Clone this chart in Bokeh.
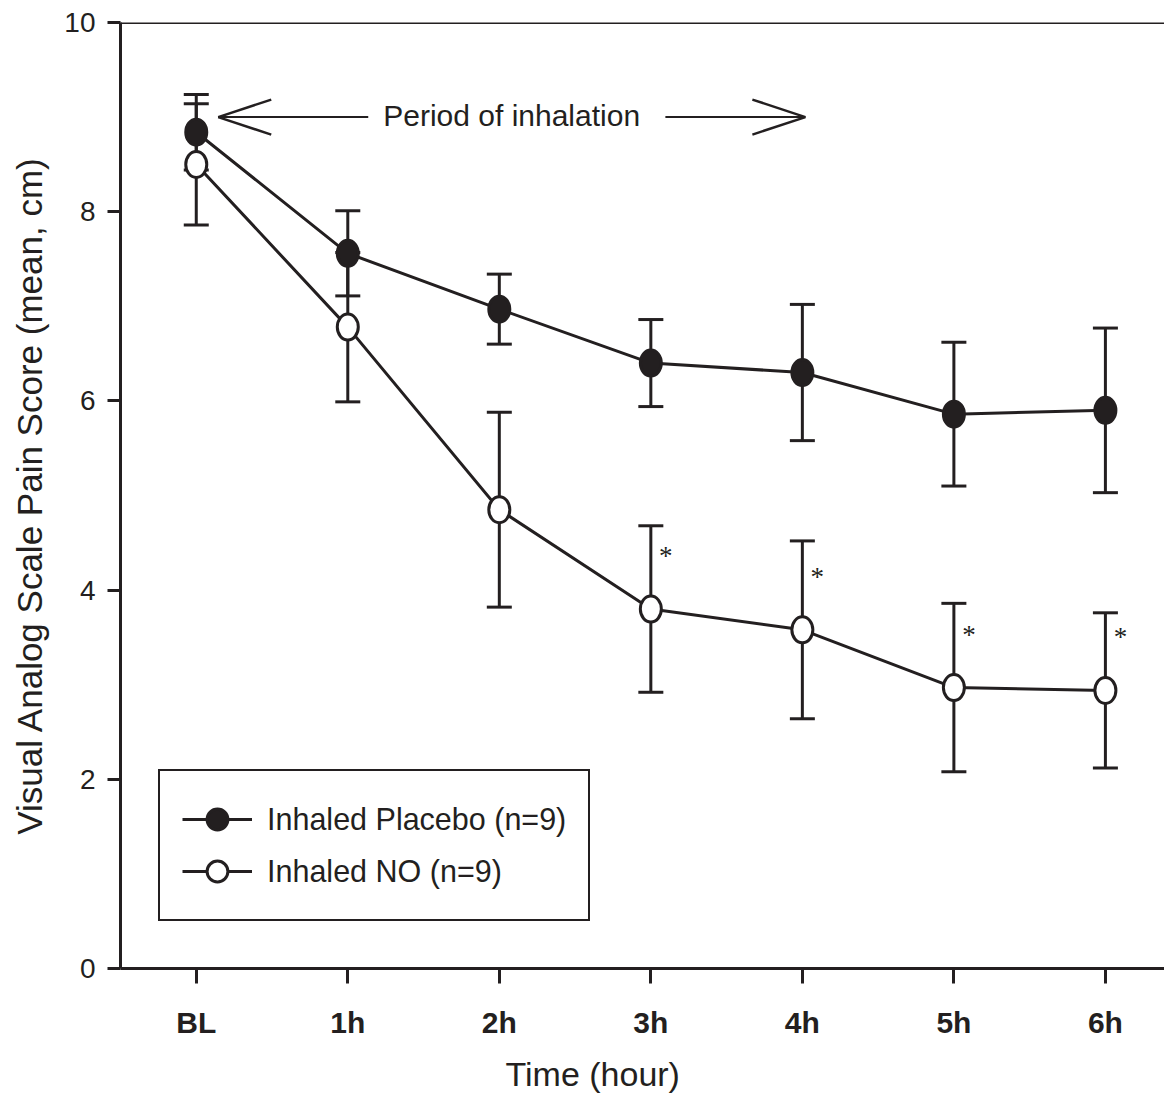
from bokeh.plotting import figure
from bokeh.models import (ColumnDataSource, Whisker, TeeHead, FixedTicker, Legend, LegendItem,
                          Label, Range1d, Span, Title)
from bokeh.embed import file_html
from bokeh.resources import INLINE

# ---- data ----
time_labels = ["BL", "1h", "2h", "3h", "4h", "5h", "6h"]
time_idx = [0, 1, 2, 3, 4, 5, 6]
placebo_mean = [8.84, 7.56, 6.97, 6.40, 6.30, 5.86, 5.90]
placebo_err = [0.40, 0.45, 0.37, 0.46, 0.72, 0.76, 0.87]
no_mean = [8.50, 6.78, 4.85, 3.80, 3.58, 2.97, 2.94]
no_err = [0.64, 0.79, 1.03, 0.88, 0.94, 0.89, 0.82]
significant = [False, False, False, True, True, True, True]
y_ticks = [0, 2, 4, 6, 8, 10]

INK = "#231f20"
FONT = "Liberation Sans"

p = figure(width=1164, height=1104, output_backend="svg", toolbar_location=None,
           x_range=Range1d(-0.5, 6.39), y_range=Range1d(0, 10),
           min_border_left=120, min_border_right=0, min_border_top=22, min_border_bottom=136)
p.outline_line_color = None
p.grid.visible = False
p.background_fill_color = "white"
p.border_fill_color = "white"

# top frame line
p.add_layout(Span(location=10, dimension="width", line_color=INK, line_width=3))

def src(mean, err):
    return ColumnDataSource(dict(x=time_idx, y=mean,
                                 upper=[m + e for m, e in zip(mean, err)],
                                 lower=[m - e for m, e in zip(mean, err)]))

src_p = src(placebo_mean, placebo_err)
src_n = src(no_mean, no_err)

for s in (src_p, src_n):
    w = Whisker(source=s, base="x", upper="upper", lower="lower", dimension="height",
                level="underlay", line_color=INK, line_width=3,
                upper_head=TeeHead(size=25, line_color=INK, line_width=3),
                lower_head=TeeHead(size=25, line_color=INK, line_width=3))
    p.add_layout(w)

lp = p.line("x", "y", source=src_p, line_color=INK, line_width=3)
ln = p.line("x", "y", source=src_n, line_color=INK, line_width=3)
# small circles hidden under the oval markers; they provide the legend symbol
mp = p.scatter("x", "y", source=src_p, marker="circle", size=8, fill_color=INK,
               line_color=INK, line_width=3)
mn = p.scatter("x", "y", source=src_n, marker="circle", size=8, fill_color="white",
               line_color=INK, line_width=3)
p.ellipse("x", "y", source=src_p, width=21, height=26, width_units="screen",
          height_units="screen", fill_color=INK, line_color=INK, line_width=3)
p.ellipse("x", "y", source=src_n, width=21, height=26, width_units="screen",
          height_units="screen", fill_color="white", line_color=INK, line_width=3)

legend = Legend(items=[LegendItem(label="Inhaled Placebo (n=9)", renderers=[lp, mp]),
                       LegendItem(label="Inhaled NO (n=9)", renderers=[ln, mn])],
                location=(38, 47), glyph_width=70, glyph_height=52, label_height=52,
                spacing=0, padding=22, label_standoff=15, margin=0,
                label_text_font=FONT, label_text_font_size="30.5px", label_text_color=INK,
                border_line_color=INK, border_line_width=2, border_line_alpha=1.0,
                background_fill_color="white", background_fill_alpha=1.0)
p.add_layout(legend, "center")

# significance stars
sx = [x for x, s in zip(time_idx, significant) if s]
sy = [m + 0.56 for m, s in zip(no_mean, significant) if s]
p.text(x=sx, y=sy, text=["*"] * len(sx), x_offset=15, text_align="center",
       text_baseline="alphabetic", text_font_size="27px", text_color=INK, text_font=FONT)

# period of inhalation annotation
arrow_y = 9.0
left_tip, left_end = 0.145, 1.135
right_start, right_tip = 3.096, 4.02
head_dx, head_dy = 53 / 151.5, 17.5 / 94.6
p.segment(x0=[left_tip, right_start], y0=[arrow_y, arrow_y], x1=[left_end, right_tip],
          y1=[arrow_y, arrow_y], line_color=INK, line_width=2)
p.segment(x0=[left_tip, left_tip, right_tip, right_tip],
          y0=[arrow_y] * 4,
          x1=[left_tip + head_dx, left_tip + head_dx, right_tip - head_dx, right_tip - head_dx],
          y1=[arrow_y + head_dy, arrow_y - head_dy, arrow_y + head_dy, arrow_y - head_dy],
          line_color=INK, line_width=2.5)
p.add_layout(Label(x=1.234, y=arrow_y + 2 / 94.6, text="Period of inhalation",
                   text_align="left", text_baseline="alphabetic", text_font=FONT,
                   text_font_size="30px", text_color=INK))

# x axis
xa = p.xaxis[0]
xa.ticker = FixedTicker(ticks=time_idx)
xa.major_label_overrides = {i: t for i, t in zip(time_idx, time_labels)}
xa.major_label_text_font = FONT
xa.major_label_text_font_size = "30px"
xa.major_label_text_font_style = "bold"
xa.major_label_text_color = INK
xa.major_label_standoff = 22
xa.major_tick_out = 15
xa.major_tick_in = 0
xa.minor_tick_line_color = None
xa.major_tick_line_width = 3
xa.major_tick_line_color = INK
xa.axis_line_width = 3
xa.axis_line_color = INK

p.add_layout(Title(text="Time (hour)", align="left", offset=385, standoff=23,
                   text_font=FONT, text_font_size="34px", text_font_style="normal",
                   text_color=INK), "below")

# y axis
ya = p.yaxis[0]
ya.ticker = FixedTicker(ticks=y_ticks)
ya.major_label_text_font = FONT
ya.major_label_text_font_size = "28px"
ya.major_label_text_color = INK
ya.major_label_standoff = 12
ya.major_tick_out = 13
ya.major_tick_in = 0
ya.minor_tick_line_color = None
ya.major_tick_line_width = 3
ya.major_tick_line_color = INK
ya.axis_line_width = 3
ya.axis_line_color = INK
ya.axis_label = "Visual Analog Scale Pain Score (mean, cm)"
ya.axis_label_text_font = FONT
ya.axis_label_text_font_size = "35px"
ya.axis_label_text_font_style = "normal"
ya.axis_label_text_color = INK
ya.axis_label_standoff = 12

open("out.html", "w").write(file_html(p, INLINE))
